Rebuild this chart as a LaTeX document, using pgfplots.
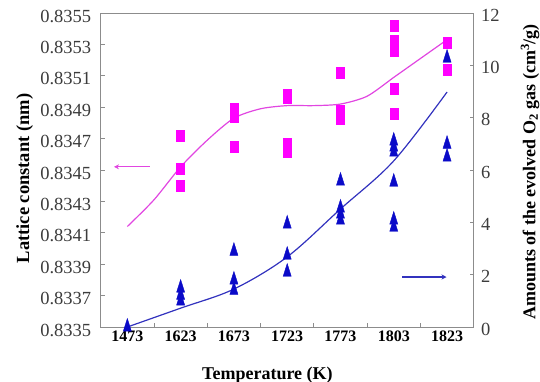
\documentclass[border=0pt]{standalone}
\usepackage{fontspec}
\setmainfont{Liberation Serif}
\usepackage{pgfplots}
\pgfplotsset{compat=1.18}
\usetikzlibrary{arrows.meta}
\definecolor{pinkm}{RGB}{255,0,255}
\definecolor{pinkl}{RGB}{225,70,225}
\definecolor{bluem}{RGB}{10,10,200}
\definecolor{bluel}{RGB}{50,50,190}
\definecolor{framegray}{RGB}{140,140,140}
\definecolor{ticktext}{RGB}{60,60,60}

\pgfplotstableread{
x y
1 0.83472
1 0.83451
1 0.83440
2 0.83489
2 0.83484
2 0.83465
3 0.83498
3 0.83496
3 0.83467
3 0.83462
4 0.83512
4 0.83488
4 0.83483
5 0.83542
5 0.83532
5 0.83526
5 0.83502
5 0.83486
6 0.83531
6 0.83514
}\latticepts

\pgfplotstableread{
x y
0 0
1 1.49
1 1.22
1 1.00
2 2.90
2 1.80
2 1.41
3 3.94
3 2.75
3 2.10
4 5.58
4 4.55
4 4.32
4 4.09
5 7.11
5 6.88
5 6.69
5 5.54
5 4.09
5 3.82
6 10.28
6 6.99
6 6.50
}\gaspts

\begin{document}
\begin{tikzpicture}
\begin{axis}[
  at={(0,0)}, anchor=south west,
  width=373pt, height=314pt, scale only axis,
  xmin=-0.5, xmax=6.5,
  ymin=0.8335, ymax=0.8355,
  axis line style={framegray, line width=0.9pt},
  xtick={0.5,1.5,...,5.5}, xticklabels={},
  extra x ticks={0,1,2,3,4,5,6},
  extra x tick labels={1473,1623,1673,1723,1773,1803,1823},
  extra x tick style={major tick length=0pt},
  xtick pos=bottom,
  ytick={0.8335,0.8337,0.8339,0.8341,0.8343,0.8345,0.8347,0.8349,0.8351,0.8353,0.8355},
  yticklabels={0.8335,0.8337,0.8339,0.8341,0.8343,0.8345,0.8347,0.8349,0.8351,0.8353,0.8355},
  scaled y ticks=false,
  ytick pos=left,
  tick align=inside, major tick length=4pt,
  tick style={framegray, line width=0.8pt},
  xticklabel style={font=\fontsize{16}{18}\selectfont\bfseries, text=black},
  yticklabel style={font=\fontsize{18.5}{20}\selectfont, text=ticktext, xshift=-6pt, yshift=-3pt},
  xlabel={Temperature (K)},
  xlabel style={font=\fontsize{18}{20}\selectfont\bfseries, at={(axis description cs:0.447,0)}, anchor=center, yshift=-48pt},
  ylabel={Lattice constant (nm)},
  ylabel style={font=\fontsize{18.5}{20}\selectfont\bfseries, at={(axis description cs:-0.204,0.473)}, anchor=center},
  clip=false,
]
\addplot[pinkl, line width=1.2pt, smooth, tension=0.45] coordinates {
(0,0.83414) (0.5,0.83431) (1,0.83452) (1.5,0.83469) (2,0.83483) (2.5,0.83489)
(3,0.83491) (3.5,0.83491) (4,0.83492) (4.5,0.83497) (5,0.83509) (5.5,0.83521) (6,0.83533)};
\addplot[only marks, mark=square*, mark size=5.6pt, color=pinkm, mark options={xscale=0.72, draw=none, fill=pinkm}] table[x=x,y=y] {\latticepts};
\addplot[pinkl, line width=1.2pt, -{Stealth[length=5pt,width=5pt]}] coordinates {(0.42,0.83452) (-0.25,0.83452)};
\end{axis}
\begin{axis}[
  at={(0,0)}, anchor=south west,
  width=373pt, height=314pt, scale only axis,
  xmin=-0.5, xmax=6.5,
  ymin=0, ymax=12,
  axis x line=none, axis y line*=right,
  axis line style={framegray, line width=0.9pt},
  ytick={0,2,4,6,8,10,12},
  yticklabels={0,2,4,6,8,10,12},
  tick align=inside, major tick length=4pt,
  tick style={framegray, line width=0.8pt},
  yticklabel style={font=\fontsize{18.5}{20}\selectfont, text=ticktext, xshift=4pt, yshift=-2pt},
  ylabel={Amounts of the evolved O\textsubscript{2} gas (cm\textsuperscript{3}/g)},
  ylabel style={font=\fontsize{18}{20}\selectfont\bfseries, at={(axis description cs:1.151,0.494)}, anchor=center},
  clip=false,
]
\addplot[bluel, line width=1.2pt, smooth, tension=0.55] coordinates {
(0,0) (1,0.72) (2,1.45) (3,2.68) (4,4.51) (5,6.35) (6,8.98)};
\addplot[only marks, mark=triangle*, mark size=8.5pt, color=bluem, mark options={xscale=0.55, draw=none, fill=bluem}] table[x=x,y=y] {\gaspts};
\addplot[bluel, line width=1.2pt, -{Stealth[length=5pt,width=5pt]}] coordinates {(5.16,1.91) (5.99,1.91)};
\end{axis}
\pgfresetboundingbox
\useasboundingbox (-100.7pt,-55pt) rectangle (439.3pt,327pt);
\end{tikzpicture}
\end{document}
